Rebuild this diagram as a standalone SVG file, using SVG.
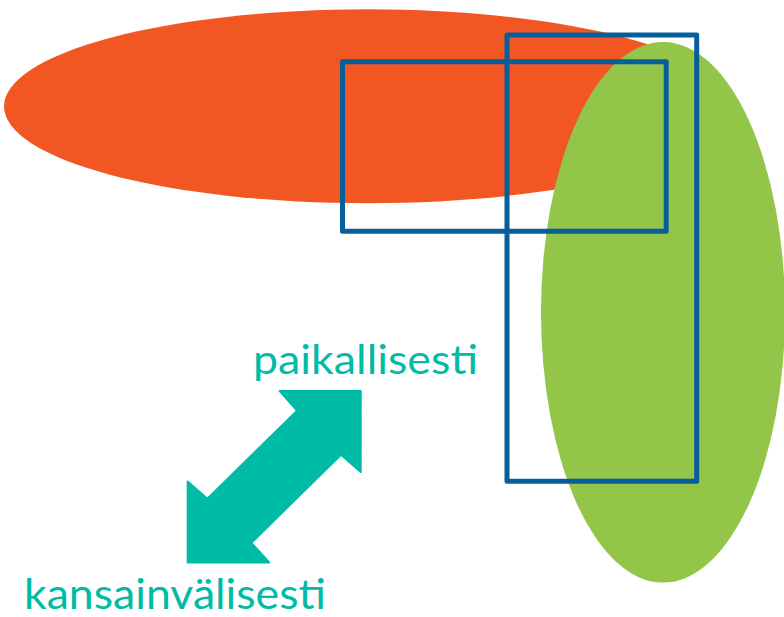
<svg xmlns="http://www.w3.org/2000/svg" width="784" height="617" viewBox="0 0 784 617">
  <style>
    .frame { fill: none; stroke: #065e9a; stroke-width: 5; stroke-linejoin: round; }
    .label { fill: #00bba5; font-family: Lato, "Open Sans", "Liberation Sans", sans-serif; }
    .arrow { fill: #00bba5; stroke: #00bba5; stroke-width: 2; stroke-linejoin: round; }
  </style>
  <rect width="784" height="617" fill="#ffffff"/>

  <!-- overlapping areas -->
  <g id="area-orange">
    <ellipse cx="368" cy="106.3" rx="364" ry="97" fill="#f15623"/>
  </g>
  <g id="area-green">
    <ellipse cx="663" cy="312.3" rx="122" ry="270.3" fill="#92c548"/>
  </g>

  <!-- outlined boxes -->
  <g id="box-wide">
    <rect class="frame" x="342.5" y="61.8" width="323.7" height="169.4"/>
  </g>
  <g id="box-tall">
    <rect class="frame" x="507" y="35" width="189.7" height="446.3"/>
  </g>

  <!-- double-headed arrow between the two scales -->
  <g id="connectors">
    <polygon class="arrow" points="360.7,391 360.7,472 341,454.7 251.4,542.8 269.2,562.4 187.7,562.4 187.7,481.4 207.4,498.7 297,410.6 279.7,391"/>
  </g>

  <g id="label-local">
    <text class="label" x="253" y="374" font-size="41" textLength="225" lengthAdjust="spacingAndGlyphs">paikallisesti</text>
  </g>
  <g id="label-international">
    <text class="label" x="24" y="609" font-size="43" textLength="302" lengthAdjust="spacingAndGlyphs">kansainvälisesti</text>
  </g>
</svg>
